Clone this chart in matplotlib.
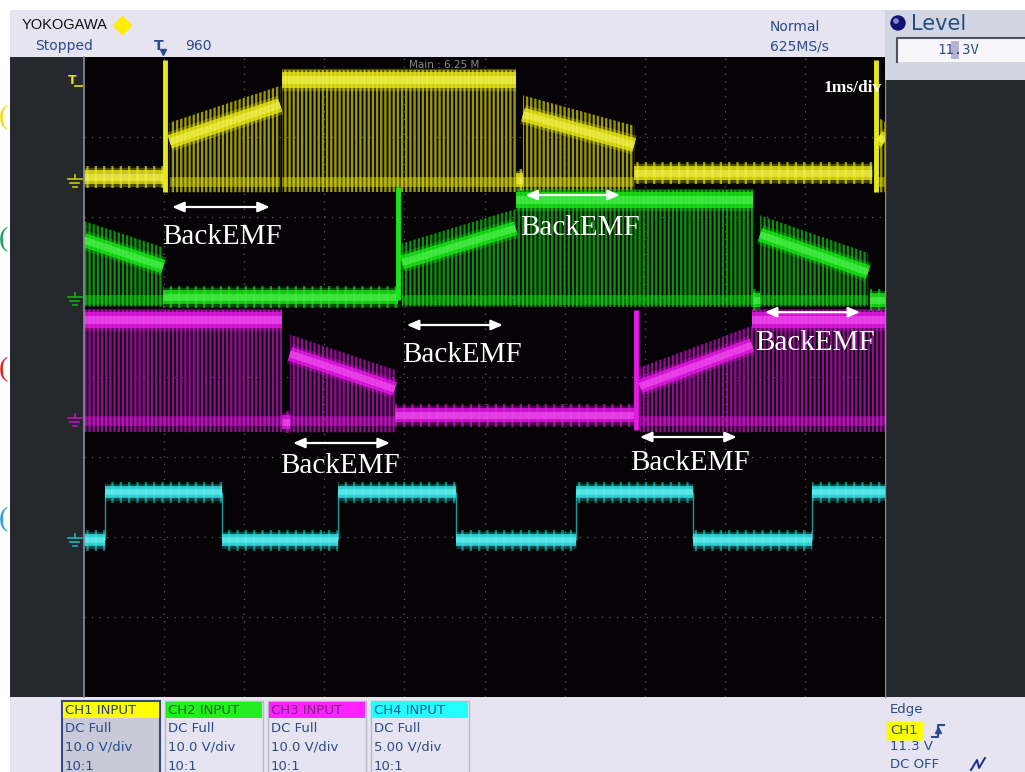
import numpy as np
import matplotlib.pyplot as plt
from matplotlib.patches import Rectangle, FancyBboxPatch, Circle

# screen is 10 x 8 divisions, x in ms (1ms/div), y in divisions
# channel traces: segment kind, start/end time, start/end level
ch1_kind = ['low', 'spike', 'float', 'pwm', 'low', 'float', 'low', 'spike', 'float']
ch1_x0 = [0.00, 1.01, 1.07, 2.47, 5.39, 5.48, 6.87, 9.89, 9.92]
ch1_x1 = [1.00, 1.01, 2.45, 5.39, 5.48, 6.87, 9.84, 9.89, 10.0]
ch1_y0 = [2.50, 3.96, 2.94, 3.71, 2.46, 3.28, 2.55, 3.96, 3.00]
ch1_y1 = [2.50, 2.31, 3.40, 3.71, 2.46, 2.90, 2.55, 2.31, 2.95]
ch1_floor = 2.31
ch1_gnd = 2.44

ch2_kind = ['float', 'low', 'spike', 'float', 'pwm', 'low', 'float', 'low']
ch2_x0 = [0.00, 0.99, 3.92, 3.97, 5.39, 8.35, 8.44, 9.81]
ch2_x1 = [0.99, 3.92, 3.92, 5.39, 8.35, 8.44, 9.79, 10.0]
ch2_y0 = [1.71, 1.00, 2.38, 1.43, 2.21, 0.96, 1.78, 0.96]
ch2_y1 = [1.38, 1.00, 0.96, 1.86, 2.21, 0.96, 1.31, 0.96]
ch2_floor = 0.88
ch2_gnd = 0.96

ch3_kind = ['pwm', 'low', 'float', 'low', 'spike', 'float', 'pwm']
ch3_x0 = [0.00, 2.47, 2.57, 3.88, 6.89, 6.94, 8.34]
ch3_x1 = [2.47, 2.57, 3.88, 6.87, 6.89, 8.34, 10.0]
ch3_y0 = [0.71, -0.56, 0.29, -0.48, 0.84, -0.12, 0.71]
ch3_y1 = [0.71, -0.56, -0.15, -0.48, -0.66, 0.40, 0.71]
ch3_floor = -0.69
ch3_gnd = -0.55

ch4_t = [0.00, 0.26, 1.72, 3.17, 4.64, 6.14, 7.60, 9.09, 10.0]
ch4_v = [-2.04, -1.44, -2.04, -1.44, -2.04, -1.44, -2.04, -1.44]
ch4_gnd = -2.05

# BackEMF annotations
emf_x0 = [1.10, 5.51, 4.03, 8.50, 2.61, 6.94]
emf_x1 = [2.32, 6.69, 5.23, 9.69, 3.82, 8.15]
emf_y = [2.125, 2.275, 0.65, 0.81, -0.825, -0.75]
emf_tx = [1.72, 6.19, 4.72, 9.13, 3.20, 7.57]
emf_ty = [1.75, 1.86, 0.275, 0.425, -1.11, -1.075]

ch_names = ['CH1 INPUT', 'CH2 INPUT', 'CH3 INPUT', 'CH4 INPUT']
ch_coupling = ['DC Full', 'DC Full', 'DC Full', 'DC Full']
ch_vdiv = ['10.0 V/div', '10.0 V/div', '10.0 V/div', '5.00 V/div']
ch_probe = ['10:1', '10:1', '10:1', '10:1']

W, H = 1025, 772
UI = '#2c4a8c'
plt.rcParams['hatch.linewidth'] = 1.7

fig = plt.figure(figsize=(W / 100, H / 100), dpi=100)
fig.patch.set_facecolor('white')

# background axes in pixel units for the scope frame
bg = fig.add_axes([0, 0, 1, 1])
bg.set_xlim(0, W)
bg.set_ylim(H, 0)
bg.axis('off')


def box(x0, y0, x1, y1, fc, ec='none', lw=0, z=1):
    bg.add_patch(Rectangle((x0, y0), x1 - x0, y1 - y0, facecolor=fc,
                           edgecolor=ec, linewidth=lw, zorder=z))


# clipped channel circles at far left
for yy, c in [(118, '#f0e000'), (240, '#10a060'), (370, '#e02020'), (520, '#20a0e0')]:
    bg.text(-1, yy, '(', color=c, fontsize=20, family='Liberation Serif',
            ha='left', va='center', zorder=0)

box(10, 10, 885, 57, '#e6e4f0')
box(10, 57, 84, 697, '#25292d')
box(885, 10, W, 80, '#d3d6e2')
box(885, 80, W, 697, '#25292d')
box(10, 697, W, H, '#e6e4f0')
bg.plot([885, 885], [80, 697], color='#8a8e96', lw=1, zorder=2)

# top bar
bg.text(22, 25, 'YOKOGAWA', fontsize=10.5, family='Liberation Sans', color='#111111',
        va='center', ha='left', zorder=3)
bg.plot(122, 25, marker='D', ms=9, color='#ffee00', zorder=3)
bg.text(35, 46, 'Stopped', fontsize=10, color=UI, va='center', ha='left', zorder=3)
bg.text(154, 46, 'T', fontsize=10, fontweight='bold', color=UI, va='center', ha='left', zorder=3)
bg.plot(163, 52, marker='v', ms=5, color=UI, zorder=3)
bg.text(185, 46, '960', fontsize=10, color=UI, va='center', ha='left', zorder=3)
bg.text(770, 27, 'Normal', fontsize=10, color=UI, va='center', ha='left', zorder=3)
bg.text(770, 46, '625MS/s', fontsize=10, color=UI, va='center', ha='left', zorder=3)

# level panel
bg.add_patch(Circle((898, 23), 7, color='#101070', zorder=3))
bg.add_patch(Circle((896, 21), 2.2, color='#8080d0', zorder=4))
bg.text(911, 24, 'Level', fontsize=15, color='#1f4f7f', va='center', ha='left', zorder=3)
box(897, 38, W, 62, '#f6f6fb', z=3)
bg.plot([897, 897, W], [62, 38, 38], color='#505060', lw=1.5, zorder=4)
box(951, 41, 959, 59, '#b4b4d0', z=4)
bg.text(958, 50, '11.3V', fontsize=10, family='DejaVu Sans Mono', color=UI,
        va='center', ha='center', zorder=5)

# bottom channel boxes
hdr_fc = ['#ffff00', '#22ee22', '#ff22ff', '#22ffff']
hdr_tc = ['#2c3c7c', '#0a6a0a', '#802080', '#2050a0']
box_x = [62, 165, 268, 371]
for i in range(4):
    x0 = box_x[i]
    sel = i == 0
    box(x0, 701, x0 + 98, H + 2, '#c8cad8' if sel else '#e6e4f0',
        ec='#3a4880' if sel else '#b8b8c8', lw=1.5 if sel else 1, z=3)
    box(x0 + 1, 702, x0 + 97, 718, hdr_fc[i], z=4)
    bg.text(x0 + 3, 710, ch_names[i], fontsize=9.5, color=hdr_tc[i], va='center', ha='left', zorder=5)
    for j, s in enumerate([ch_coupling[i], ch_vdiv[i], ch_probe[i]]):
        bg.text(x0 + 3, 729 + 18.5 * j, s, fontsize=9.5, color=UI, va='center', ha='left', zorder=5)

# trigger info bottom right
bg.text(890, 710, 'Edge', fontsize=9.5, color=UI, va='center', ha='left', zorder=3)
bg.add_patch(FancyBboxPatch((888, 723), 34, 16, boxstyle='round,pad=1.5',
                            facecolor='#ffff00', edgecolor='none', zorder=3))
bg.text(890, 731, 'CH1', fontsize=9.5, color=UI, va='center', ha='left', zorder=4)
bg.plot([932, 938, 938, 944], [737, 737, 725, 725], color=UI, lw=1.5, zorder=4)
bg.plot(938, 730, marker='^', ms=4, color=UI, zorder=4)
bg.text(890, 747, '11.3 V', fontsize=9.5, color=UI, va='center', ha='left', zorder=3)
bg.text(890, 765, 'DC OFF', fontsize=9.5, color=UI, va='center', ha='left', zorder=3)
bg.plot([971, 977, 979, 985], [770, 760, 768, 758], color='#1a2a90', lw=1.4, zorder=4)

# main waveform area
ax = fig.add_axes([84 / W, 1 - 697 / H, 801 / W, 640 / H])
ax.set_facecolor('#060306')
ax.set_xlim(0, 10)
ax.set_ylim(-4, 4)
ax.set_xticks([])
ax.set_yticks([])
for s in ['top', 'right', 'bottom']:
    ax.spines[s].set_visible(False)
ax.spines['left'].set_color('#8a8e96')
ax.spines['left'].set_linewidth(1.2)
for k in range(1, 10):
    ax.axvline(k, color='#5c5c5c', lw=0.9, ls=(0, (1, 5)), zorder=0)
for k in range(-3, 4):
    ax.axhline(k, color='#5c5c5c', lw=0.9, ls=(0, (1, 5)), zorder=0)


def band(xs, ys, bright, core, wide=1.0):
    ax.plot(xs, ys, color=bright, lw=14 * wide, alpha=0.3, solid_capstyle='butt')
    ax.plot(xs, ys, color=bright, lw=10 * wide, alpha=0.8, solid_capstyle='butt')
    ax.plot(xs, ys, color=core, lw=5 * wide, alpha=0.45, solid_capstyle='butt')


def draw_channel(kinds, x0s, x1s, y0s, y1s, floor, gnd, bright, core, dark):
    for k, xa, xb, ya, yb in zip(kinds, x0s, x1s, y0s, y1s):
        if k == 'spike':
            ax.plot([xa, xb], [ya, yb], color=bright, lw=3.5, solid_capstyle='butt')
            continue
        xs = [xa, xb]
        if k == 'low':
            ax.fill_between(xs, [ya - 0.14, yb - 0.14], [ya + 0.14, yb + 0.14],
                            facecolor='none', edgecolor=dark, hatch='||', lw=0)
        else:
            lift = 0.24 if k == 'float' else 0.13
            ax.fill_between(xs, [floor, floor], [ya + lift, yb + lift],
                            facecolor='none', edgecolor=dark, hatch='||||', lw=0)
            ax.plot(xs, [gnd, gnd], color=bright, lw=7, alpha=0.45, solid_capstyle='butt')
        band(xs, [ya, yb], bright, core, 1.15 if k == 'pwm' else 1.0)


draw_channel(ch1_kind, ch1_x0, ch1_x1, ch1_y0, ch1_y1, ch1_floor, ch1_gnd,
             '#e8e818', '#ffff70', '#9a9a00')
draw_channel(ch2_kind, ch2_x0, ch2_x1, ch2_y0, ch2_y1, ch2_floor, ch2_gnd,
             '#18e818', '#70ff70', '#0c900c')
draw_channel(ch3_kind, ch3_x0, ch3_x1, ch3_y0, ch3_y1, ch3_floor, ch3_gnd,
             '#e818e8', '#ff70ff', '#900c90')

# CH4 square wave
ax.vlines(ch4_t[1:-1], min(ch4_v), max(ch4_v), color='#1a9a9a', lw=1)
for i, v in enumerate(ch4_v):
    xs = [ch4_t[i], ch4_t[i + 1]]
    ax.fill_between(xs, [v - 0.13, v - 0.13], [v + 0.13, v + 0.13], facecolor='none',
                    edgecolor='#137878', hatch='||', lw=0)
    ax.plot(xs, [v, v], color='#30e6e6', lw=12, alpha=0.3, solid_capstyle='butt')
    ax.plot(xs, [v, v], color='#30e6e6', lw=8.5, alpha=0.85, solid_capstyle='butt')
    ax.plot(xs, [v, v], color='#90ffff', lw=4, alpha=0.45, solid_capstyle='butt')

# ground markers in the left strip
for g, c in [(ch1_gnd, '#c8c800'), (ch2_gnd, '#10b010'), (ch3_gnd, '#c010c0'), (ch4_gnd, '#18b8b8')]:
    ax.plot([-0.113, -0.113], [g + 0.09, g + 0.04], color=c, lw=1.2, clip_on=False)
    ax.plot([-0.2, -0.03], [g + 0.04, g + 0.04], color=c, lw=1.2, clip_on=False)
    ax.plot([-0.17, -0.06], [g - 0.01, g - 0.01], color=c, lw=1.2, clip_on=False)
    ax.plot([-0.14, -0.09], [g - 0.06, g - 0.06], color=c, lw=1.2, clip_on=False)

# trigger level marker
ax.text(-0.2, 3.71, 'T', color='#e6e600', fontsize=9, fontweight='bold', ha='left',
        va='center', clip_on=False)
ax.plot([-0.11, -0.03], [3.64, 3.64], color='#e6e600', lw=1.2, clip_on=False)

ax.text(4.5, 3.9, 'Main : 6.25 M', color='#8a8a8a', fontsize=7.5, ha='center', va='center')
ax.text(9.23, 3.61, '1ms/div', color='white', fontsize=12.5, fontweight='bold',
        family='Liberation Serif', ha='left', va='center', clip_on=True)

for x0, x1, y, tx, ty in zip(emf_x0, emf_x1, emf_y, emf_tx, emf_ty):
    ax.annotate('', xy=(x1, y), xytext=(x0, y),
                arrowprops=dict(arrowstyle='<|-|>,head_length=0.7,head_width=0.3',
                                color='white', lw=1.6, shrinkA=0, shrinkB=0))
    ax.text(tx, ty, 'BackEMF', color='white', fontsize=21, family='Liberation Serif',
            ha='center', va='center')

fig.savefig('out.png', dpi=100, facecolor=fig.get_facecolor())
